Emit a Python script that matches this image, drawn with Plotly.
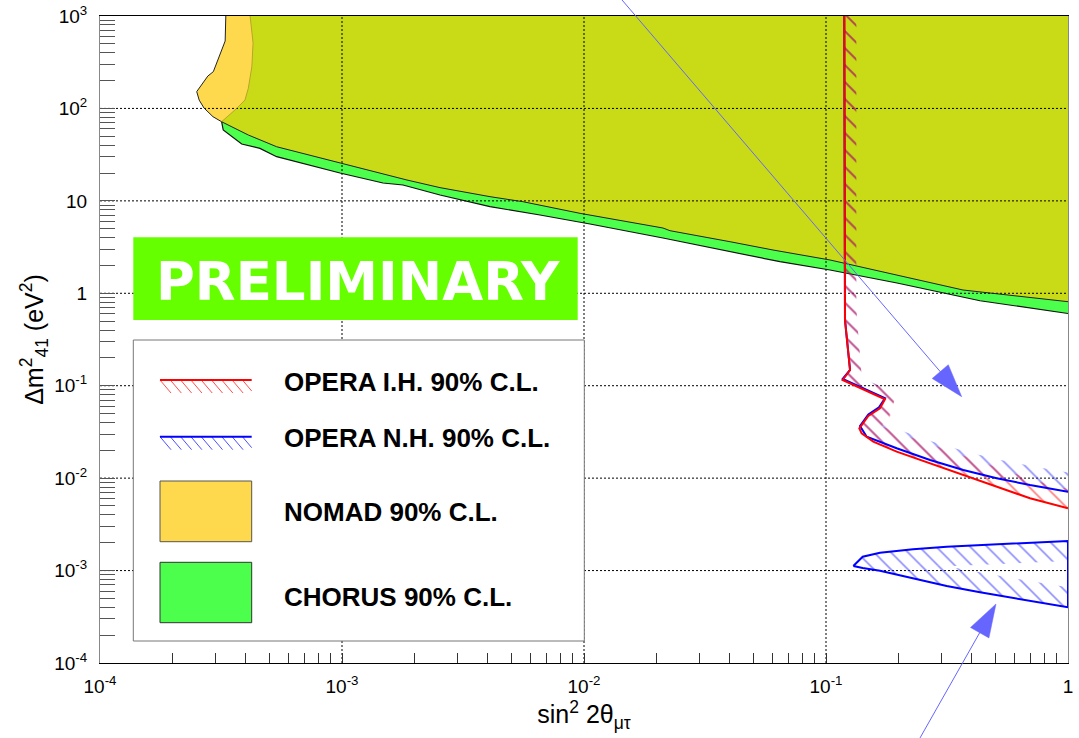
import numpy as np
import plotly.graph_objects as go

# ---------------------------------------------------------------- layout frame
FIG_W, FIG_H = 1079, 738
M_L, M_R, M_T, M_B = 100, 11, 16, 75
PLOT_W = FIG_W - M_L - M_R
PLOT_H = FIG_H - M_T - M_B
X_RANGE = (-4.0, 0.0)   # log10(sin^2 2theta)
Y_RANGE = (-4.0, 3.0)   # log10(dm^2 / eV^2)

# ---------------------------------------------------------------- data
# NOMAD 90% C.L.: low-sin^2 edge (top of plot down to the junction with CHORUS)
nomad_edge_x = [3.31e-4, 3.29e-4, 2.94e-4, 2.79e-4, 2.51e-4, 2.57e-4, 2.69e-4, 2.93e-4, 3.18e-4]
nomad_edge_y = [1000, 536, 250, 224, 152, 123, 101, 81.4, 71.8]
# NOMAD 90% C.L.: low-dm^2 edge (junction out to sin^2 = 1)
nomad_low_x = [3.18e-4, 4.10e-4, 5.37e-4, 9.81e-4, 1.343e-3, 1.856e-3, 2.541e-3, 4.088e-3,
               5.596e-3, 9.63e-3, 0.0212, 0.02266, 0.0401, 0.0604, 0.1039, 0.1965, 0.3683, 1.0]
nomad_low_y = [71.8, 51.6, 38.5, 25.9, 20.7, 16.8, 13.9, 11.1,
               9.79, 7.33, 5.085, 4.755, 3.615, 2.94, 2.292, 1.577, 1.085, 0.811]

# CHORUS 90% C.L.: low-sin^2 edge and low-dm^2 edge
chorus_edge_x = [4.17e-4, 4.29e-4, 4.24e-4, 4.10e-4, 3.97e-4, 3.67e-4, 3.18e-4]
chorus_edge_y = [1000, 510, 283, 165, 123, 100, 71.8]
chorus_low_x = [3.18e-4, 3.23e-4, 3.85e-4, 4.58e-4, 5.37e-4, 9.81e-4, 1.477e-3, 1.787e-3,
                2.541e-3, 4.088e-3, 6.58e-3, 0.01059, 0.0212, 0.0401, 0.06454, 0.1039,
                0.1965, 0.4329, 1.0]
chorus_low_y = [71.8, 58.4, 41.2, 37.0, 30.05, 20.0, 15.6, 14.85,
                11.57, 8.65, 7.03, 5.62, 3.965, 2.818, 2.197, 1.786,
                1.292, 0.831, 0.6045]

# OPERA inverted hierarchy 90% C.L. exclusion contour
opera_ih_x = [0.119, 0.119, 0.1198, 0.1257, 0.1172, 0.1753, 0.1671, 0.1496, 0.1373,
              0.1404, 0.1568, 0.1959, 0.2691, 0.3693, 0.5074, 0.6966, 1.0]
opera_ih_y = [1000, 0.716, 0.514, 0.1479, 0.1153, 0.0713, 0.0570, 0.0470, 0.0346,
              0.03055, 0.0248, 0.01933, 0.01448, 0.01082, 0.00808, 0.00605, 0.00472]

# OPERA normal hierarchy 90% C.L. exclusion contour (upper branch)
opera_nh_x = [0.119, 0.119, 0.1198, 0.1257, 0.1172, 0.1753, 0.1656, 0.1496, 0.1382,
              0.1473, 0.1959, 0.2691, 0.3693, 0.5074, 0.6966, 1.0]
opera_nh_y = [1000, 0.716, 0.514, 0.1479, 0.1182, 0.0731, 0.0584, 0.0488, 0.0367,
              0.0281, 0.02103, 0.01572, 0.01225, 0.00996, 0.00843, 0.00714]

# OPERA normal hierarchy: closed island around dm^2 ~ 1e-3 eV^2
island_x = [0.1297, 0.1418, 0.1671, 0.2289, 0.3153, 0.4329, 0.5926, 1.0]
island_hi = [0.00112, 0.001413, 0.001561, 0.001699, 0.001813, 0.001891, 0.001973, 0.002089]
island_lo = [0.00112, 0.001066, 0.000997, 0.000825, 0.000681, 0.000582, 0.000501, 0.000401]

# pointer arrows (tail, tip) in data coordinates
arrow_tails = [(0.01436, 1490.0), (0.2446, 1.545e-5)]
arrow_tips = [(0.3637, 0.0761), (0.504, 0.000435)]

# axis ticks
x_major = [1e-4, 1e-3, 1e-2, 1e-1, 1.0]
x_major_text = ["10<sup>-4</sup>", "10<sup>-3</sup>", "10<sup>-2</sup>", "10<sup>-1</sup>", "1"]
y_major = [1e-4, 1e-3, 1e-2, 1e-1, 1.0, 10.0, 100.0, 1000.0]
y_major_text = ["10<sup>-4</sup>", "10<sup>-3</sup>", "10<sup>-2</sup>", "10<sup>-1</sup>",
                "1", "10", "10<sup>2</sup>", "10<sup>3</sup>"]

legend_labels = ["OPERA I.H. 90% C.L.", "OPERA N.H. 90% C.L.", "NOMAD 90% C.L.", "CHORUS 90% C.L."]

# ---------------------------------------------------------------- styles
C_NOMAD = "#FFD94D"
C_CHORUS = "#4DFF4D"
C_BOTH = "#C9DA17"
C_RED = "#FF0000"
C_BLUE = "#0000FF"
C_ARROW = "#6666FF"
FONT = "Liberation Sans"

SX = PLOT_W / (X_RANGE[1] - X_RANGE[0])   # pixels per decade
SY = PLOT_H / (Y_RANGE[1] - Y_RANGE[0])


def hatch_band(xs, ys, wx, wy):
    """Polygon hugging the contour on its excluded side (ROOT-style hatch band)."""
    P = np.column_stack([np.log10(xs) * SX, -np.log10(ys) * SY])
    seg = np.diff(P, axis=0)
    seg /= np.linalg.norm(seg, axis=1, keepdims=True)
    nrm = np.column_stack([seg[:, 1], -seg[:, 0]])
    vn = np.zeros_like(P)
    vn[:-1] += nrm
    vn[1:] += nrm
    vn /= np.maximum(np.linalg.norm(vn, axis=1, keepdims=True), 1e-9)
    Q = P + vn * np.array([wx, wy])
    ring = np.vstack([P, Q[::-1]])
    return 10 ** (ring[:, 0] / SX), 10 ** (-ring[:, 1] / SY)


def island_band(xs, edge, other, w):
    le, lo = np.log10(edge), np.log10(other)
    off = np.minimum(w, np.abs(le - lo) * SY / 2) / SY
    inner = le - np.sign(le - lo) * off
    bx = list(xs) + list(xs)[::-1]
    by = list(edge) + list(10 ** inner)[::-1]
    return bx, by


def to_paper(x, y):
    return ((np.log10(x) - X_RANGE[0]) / (X_RANGE[1] - X_RANGE[0]),
            (np.log10(y) - Y_RANGE[0]) / (Y_RANGE[1] - Y_RANGE[0]))


def px2paper(px, py):
    return (px - M_L) / PLOT_W, (FIG_H - M_B - py) / PLOT_H


fig = go.Figure()


def add_fill(xs, ys, color):
    fig.add_trace(go.Scatter(x=xs, y=ys, mode="lines", fill="toself", fillcolor=color,
                             line=dict(width=0), hoverinfo="skip", showlegend=False))


def add_line(xs, ys, color, width, dash="solid"):
    fig.add_trace(go.Scatter(x=xs, y=ys, mode="lines", line=dict(color=color, width=width, dash=dash),
                             hoverinfo="skip", showlegend=False, connectgaps=False))


def add_hatch(xs, ys, color):
    fig.add_trace(go.Scatter(x=xs, y=ys, mode="lines", fill="toself",
                             fillpattern=dict(shape="\\", size=12, solidity=0.14,
                                              fgcolor=color, bgcolor="rgba(0,0,0,0)"),
                             line=dict(width=0), hoverinfo="skip", showlegend=False))


y_top = 10 ** Y_RANGE[1]
x_right = 10 ** X_RANGE[1]

# allowed regions: NOMAD, CHORUS and their overlap
add_fill(nomad_edge_x + nomad_low_x[1:] + [x_right], nomad_edge_y + nomad_low_y[1:] + [y_top], C_NOMAD)
add_fill(chorus_edge_x + chorus_low_x[1:] + [x_right], chorus_edge_y + chorus_low_y[1:] + [y_top], C_CHORUS)
add_fill(chorus_edge_x + nomad_low_x[1:] + [x_right], chorus_edge_y + nomad_low_y[1:] + [y_top], C_BOTH)

# dotted grid at the decades
gx, gy = [], []
for v in x_major[1:-1]:
    gx += [v, v, None]
    gy += [y_major[0], y_major[-1], None]
for v in y_major[1:-1]:
    gx += [x_major[0], x_major[-1], None]
    gy += [v, v, None]
add_line(gx, gy, "black", 1, dash="2px,2px")

# region outlines
add_line(nomad_edge_x + nomad_low_x[1:], nomad_edge_y + nomad_low_y[1:], "#222222", 1)
add_line(chorus_low_x, chorus_low_y, "#111111", 1.2)
add_line(chorus_edge_x, chorus_edge_y, "rgba(185,140,40,0.7)", 1)

# OPERA hatch bands
hx, hy = hatch_band(opera_nh_x, opera_nh_y, 12, 19)
add_hatch(hx, hy, "#2424FF")
bx, by = island_band(island_x, island_hi, island_lo, 20)
add_hatch(bx, by, "#2424FF")
bx, by = island_band(island_x, island_lo, island_hi, 20)
add_hatch(bx, by, "#2424FF")
hx, hy = hatch_band(opera_ih_x, opera_ih_y, 12, 19)
add_hatch(hx, hy, "#FF0000")

# OPERA contours
add_line(opera_nh_x, opera_nh_y, C_BLUE, 2)
add_line(island_x + island_x[::-1], island_hi + island_lo[::-1], C_BLUE, 2)
add_line(opera_ih_x, opera_ih_y, C_RED, 2)

# ---------------------------------------------------------------- decorations (shapes)
shapes = []
annotations = []


def rect_px(x0, y0, x1, y1, fill, line_color=None, lw=0):
    a0, b0 = px2paper(x0, y1)
    a1, b1 = px2paper(x1, y0)
    shapes.append(dict(type="rect", xref="paper", yref="paper", x0=a0, y0=b0, x1=a1, y1=b1,
                       fillcolor=fill, layer="above",
                       line=dict(color=line_color or fill, width=lw)))


def path_px(points_list, color, width, fill=None, closed=False):
    d = ""
    for pts in points_list:
        for i, (px, py) in enumerate(pts):
            a, b = px2paper(px, py)
            d += ("M" if i == 0 else "L") + f"{a:.5f},{b:.5f} "
        if closed:
            d += "Z "
    shp = dict(type="path", xref="paper", yref="paper", path=d.strip(), layer="above",
               line=dict(color=color, width=width))
    if fill:
        shp["fillcolor"] = fill
    shapes.append(shp)


# PRELIMINARY banner
rect_px(133.3, 237.3, 577.7, 320.0, "#66FF00")
bx0, by0 = px2paper(357.5, 281.5)
annotations.append(dict(text="<b>PRELIMINARY</b>", x=bx0, y=by0, xref="paper", yref="paper",
                        xanchor="center", yanchor="middle", showarrow=False,
                        font=dict(family="DejaVu Sans", size=53, color="white")))

# legend box
rect_px(133.3, 340.0, 584.3, 641.0, "white", "#777777", 1)


def hatch_symbol(y_line, color, hatch_color):
    x0, x1 = 160.0, 251.7
    depth, run = 13.0, 11.0
    segs = []
    xs = x0
    while xs < x1 - 1:
        xe = min(xs + run, x1)
        segs.append([(xs, y_line), (xe, y_line + depth * (xe - xs) / run)])
        xs += 10.3
    path_px(segs, hatch_color, 1)
    path_px([[(x0, y_line), (x1, y_line)]], color, 2)


hatch_symbol(380.0, C_RED, "rgba(255,60,60,0.9)")
hatch_symbol(436.7, C_BLUE, "rgba(60,60,255,0.9)")
rect_px(160.0, 481.0, 251.7, 541.7, C_NOMAD, "#555555", 1)
rect_px(160.0, 562.3, 251.7, 622.7, C_CHORUS, "#333333", 1)

for label, ypx in zip(legend_labels, [381.7, 438.3, 511.7, 596.7]):
    a, b = px2paper(282.3, ypx)
    annotations.append(dict(text=label, x=a, y=b, xref="paper", yref="paper",
                            xanchor="left", yanchor="middle", showarrow=False,
                            font=dict(family=FONT, size=26, color="black", weight=700)))

# pointer arrows
HEAD_LEN, HEAD_HALF = 33.0, 10.6
for (tx, ty), (hx_, hy_) in zip(arrow_tails, arrow_tips):
    pa = to_paper(tx, ty)
    pb = to_paper(hx_, hy_)
    t = np.array([M_L + pa[0] * PLOT_W, FIG_H - M_B - pa[1] * PLOT_H])
    h = np.array([M_L + pb[0] * PLOT_W, FIG_H - M_B - pb[1] * PLOT_H])
    u = (h - t) / np.linalg.norm(h - t)
    perp = np.array([-u[1], u[0]])
    base = h - HEAD_LEN * u
    path_px([[tuple(t), tuple(base + 4 * u)]], C_ARROW, 1)
    path_px([[tuple(h), tuple(base + HEAD_HALF * perp), tuple(base - HEAD_HALF * perp)]],
            C_ARROW, 0.5, fill=C_ARROW, closed=True)

# ---------------------------------------------------------------- axes
def log_ticks(majors):
    vals = []
    for m in majors[:-1]:
        vals += [d * m for d in range(1, 10)]
    return vals + [majors[-1]]


x_tickvals = log_ticks(x_major)
x_ticktext = [x_major_text[x_major.index(v)] if v in x_major else "" for v in x_tickvals]
y_tickvals = log_ticks(y_major)
y_ticktext = [y_major_text[y_major.index(v)] if v in y_major else "" for v in y_tickvals]

fig.update_xaxes(type="log", range=list(X_RANGE), showgrid=False, zeroline=False,
                 showline=True, linecolor="black", linewidth=1, mirror=True,
                 ticks="inside", ticklen=10, tickcolor="#333333", tickwidth=1,
                 tickmode="array", tickvals=x_tickvals, ticktext=x_ticktext,
                 tickfont=dict(family=FONT, size=19, color="black"),
                 ticklabelstandoff=6,
                 title=dict(text="sin<sup>2</sup> 2θ<sub>μτ</sub>",
                            font=dict(family=FONT, size=25, color="black"), standoff=5),
                 automargin=False)
fig.update_yaxes(type="log", range=list(Y_RANGE), showgrid=False, zeroline=False,
                 showline=True, linecolor="#888888", linewidth=1, mirror=True,
                 ticks="inside", ticklen=15, tickcolor="#555555", tickwidth=1,
                 tickmode="array", tickvals=y_tickvals, ticktext=y_ticktext,
                 tickfont=dict(family=FONT, size=19, color="black"),
                 ticklabelstandoff=8,
                 title=dict(text="Δm<sup>2</sup><sub>41</sub> (eV<sup>2</sup>)",
                            font=dict(family=FONT, size=25, color="black"), standoff=3),
                 automargin=False)

fig.update_layout(width=FIG_W, height=FIG_H,
                  margin=dict(l=M_L, r=M_R, t=M_T, b=M_B, pad=0),
                  paper_bgcolor="white", plot_bgcolor="white",
                  showlegend=False, hovermode=False,
                  shapes=shapes, annotations=annotations)

fig.write_html("out.html")
